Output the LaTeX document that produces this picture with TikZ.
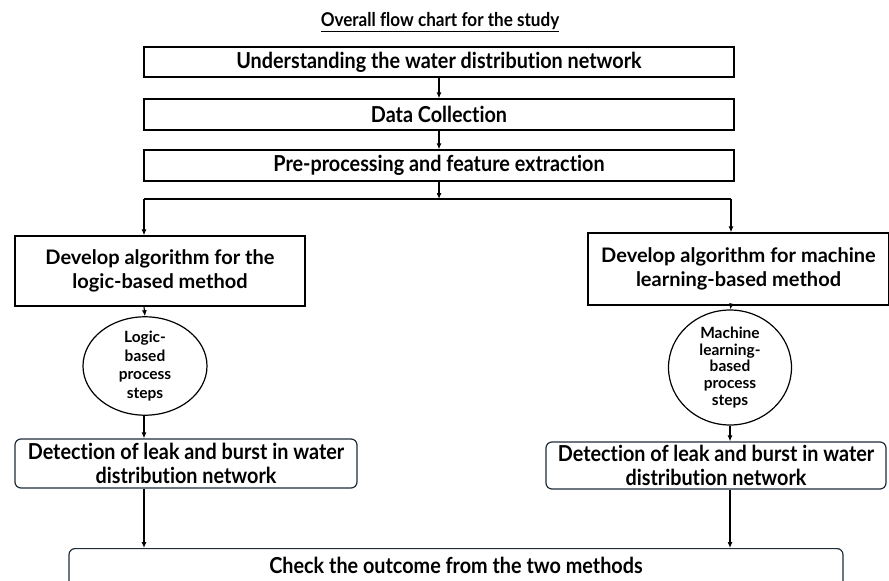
\documentclass[tikz,border=0pt]{standalone}
\usepackage{fontspec}
\setmainfont[Ligatures={NoCommon}]{Lato}
\newfontfamily\cnd[FakeStretch=0.9,Ligatures={NoCommon}]{Lato}
\usetikzlibrary{arrows.meta,shapes.geometric}
\definecolor{slate}{HTML}{1E2D3B}
\tikzset{
  sq/.style={draw=black,line width=1.3pt,minimum width=590pt,minimum height=31pt,inner sep=0pt,
    font=\cnd\bfseries\fontsize{22}{25}\selectfont},
  dev/.style={draw=black,line width=1.3pt,inner sep=0pt,align=center,
    font=\bfseries\fontsize{20}{24}\selectfont},
  ell/.style={ellipse,draw=black,line width=1.2pt,inner sep=0pt,align=center,
    font=\bfseries\fontsize{15.5}{16.8}\selectfont},
  det/.style={draw=slate,line width=1.2pt,rounded corners=6pt,inner sep=0pt,align=center,
    font=\cnd\bfseries\fontsize{22}{24.5}\selectfont},
  arr/.style={line width=1.1pt,-{Latex[length=6pt,width=5pt]}},
  ln/.style={line width=1.1pt}
}
\begin{document}
\begin{tikzpicture}[x=1pt,y=-1pt]
\useasboundingbox (0,0) rectangle (889,581);
\node[font=\cnd\bfseries\fontsize{19}{22}\selectfont] (title) at (440,22) {\underline{Overall flow chart for the study}};
\node[sq,minimum height=30pt] (b1) at (439,62) {Understanding the water distribution network};
\node[sq] (b2) at (439,114.5) {Data Collection};
\node[sq] (b3) at (439,165.5) {Pre-processing and feature extraction};
\coordinate (jc) at (439,199);
\coordinate (jl) at (144,199);
\coordinate (jr) at (731,199);
\node[dev,minimum width=290pt,minimum height=70pt] (dl) at (160,271) {Develop algorithm for the\\logic-based method};
\node[dev,minimum width=301pt,minimum height=72pt] (dr) at (738.5,269) {Develop algorithm for machine\\learning-based method};
\node[ell,minimum width=124pt,minimum height=88pt,font=\bfseries\fontsize{15.5}{18.5}\selectfont] (el) at (145,366) {Logic-\\based\\process\\steps};
\node[ell,minimum width=123pt,minimum height=91pt] (er) at (730,367.5) {Machine\\learning-\\based\\process\\steps};
\node[det,minimum width=342pt,minimum height=49pt] (tl) at (186,463.5) {Detection of leak and burst in water\\distribution network};
\node[det,minimum width=340pt,minimum height=47pt] (tr) at (716,465.5) {Detection of leak and burst in water\\distribution network};
\node[det,minimum width=774pt,minimum height=44pt,anchor=north] (ck) at (456,548) {\raisebox{10pt}{Check the outcome from the two methods}};
\draw[arr] (b1) -- (b2);
\draw[arr] (b2) -- (b3);
\draw[arr] (b3) -- (jc);
\draw[ln] (jl) -- (jr);
\draw[arr] (jl) -- (jl |- dl.north);
\draw[arr] (jr) -- (jr |- dr.north);
\draw[arr] (jl |- dl.south) -- (el.north);
\draw[arr] (jr |- dr.south) -- (er.north);
\draw[arr] (el.south -| jl) -- (jl |- tl.north);
\draw[arr] (er.south) -- (er.south |- tr.north);
\draw[arr] (jl |- tl.south) -- (jl |- ck.north);
\draw[arr] (er.south |- tr.south) -- (er.south |- ck.north);
\end{tikzpicture}
\end{document}
